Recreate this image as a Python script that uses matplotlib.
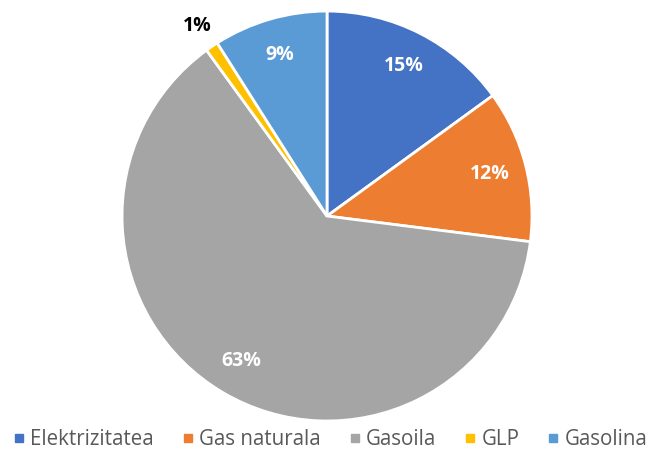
import matplotlib.pyplot as plt
from matplotlib.lines import Line2D
import numpy as np

plt.rcParams['font.family'] = ['Open Sans', 'DejaVu Sans']

# consumo por tipo de energia
categorias = ['Elektrizitatea', 'Gas naturala', 'Gasoila', 'GLP', 'Gasolina']
valores = [15, 12, 63, 1, 9]
colores = ['#4472C4', '#ED7D31', '#A5A5A5', '#FFC000', '#5B9BD5']

fig = plt.figure(figsize=(6.56, 4.57), dpi=100)
ax = fig.add_axes([0.186, 0.0788, 0.625, 0.897])

wedges, textos, pcts = ax.pie(valores, colors=colores, startangle=90, counterclock=False,
                              autopct='%1.0f%%', pctdistance=0.82,
                              wedgeprops=dict(edgecolor='white', linewidth=2),
                              textprops=dict(color='white', fontsize=14, fontweight='bold'))

# la etiqueta del trozo pequeño va fuera, en negro
for v, t in zip(valores, pcts):
    if v < 3:
        x, y = t.get_position()
        t.set_position((x * 1.37, y * 1.37))
        t.set_color('black')

ax.set_xlim(-1, 1)
ax.set_ylim(-1, 1)
ax.set_aspect('equal')

handles = [Line2D([], [], marker='s', linestyle='', color=c, markersize=6) for c in colores]
leg = fig.legend(handles, categorias, loc='lower center', ncol=5, frameon=False,
                 bbox_to_anchor=(0.5, -0.025), handletextpad=0.05,
                 columnspacing=1.15, handlelength=1.0, prop={'size': 14.8})
for t in leg.get_texts():
    t.set_color('#595959')

fig.savefig('out.png', dpi=100)
